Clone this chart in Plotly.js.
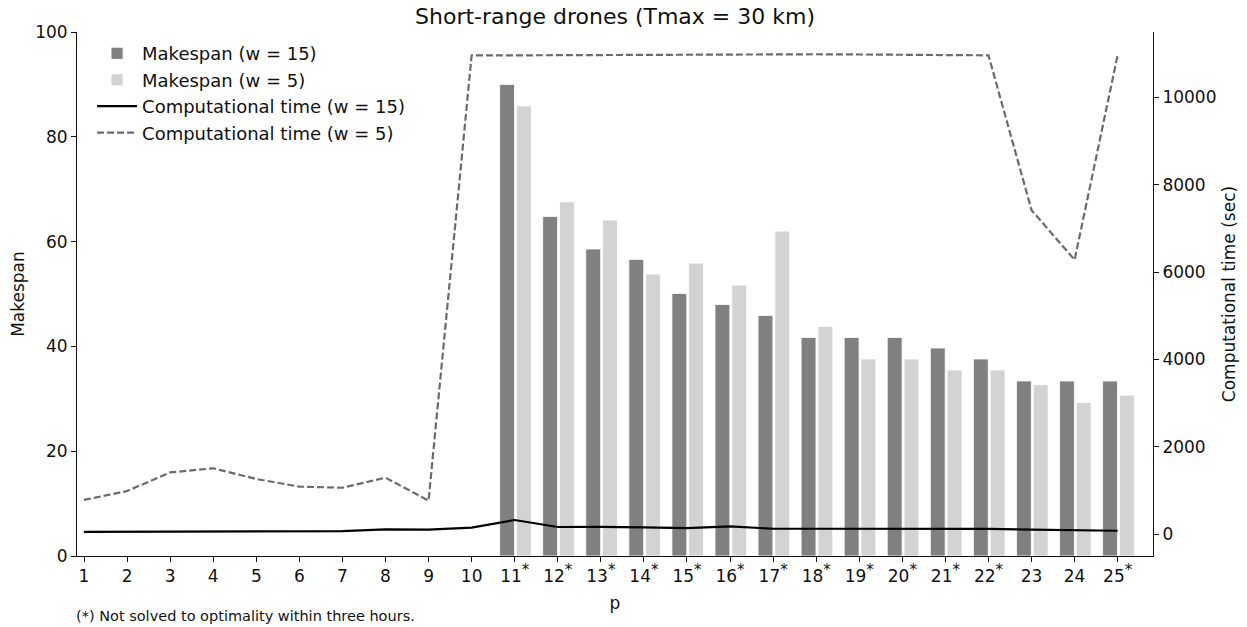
<!DOCTYPE html>
<html>
<head>
<meta charset="utf-8">
<script src="https://cdn.plot.ly/plotly-3.0.1.min.js"></script>
<style>
  html, body { margin: 0; padding: 0; background: #fff; }
  #chart { width: 1247px; height: 627px; }
</style>
</head>
<body>
<div id="chart"></div>
<script>
// ---- data ----
const p = [1,2,3,4,5,6,7,8,9,10,11,12,13,14,15,16,17,18,19,20,21,22,23,24,25];
const notOptimal = [false,false,false,false,false,false,false,false,false,false,
  true,true,true,true,true,true,true,true,true,true,true,true,false,false,true];
const makespanW15 = [null,null,null,null,null,null,null,null,null,null,
  90.0,64.8,58.6,56.6,50.1,48.0,45.9,41.7,41.7,41.7,39.7,37.6,33.4,33.4,33.4];
const makespanW5 = [null,null,null,null,null,null,null,null,null,null,
  85.9,67.6,64.1,53.8,55.9,51.7,62.0,43.8,37.6,37.6,35.5,35.5,32.7,29.3,30.7];
const compTimeW15 = [50,52,55,58,60,62,65,105,100,145,320,160,165,150,135,175,120,120,122,125,118,118,100,95,75];
const compTimeW5 = [780,985,1410,1505,1260,1085,1060,1290,765,10965,10965,10970,10975,10975,10980,10980,10985,10990,10985,10975,10970,10965,7420,6280,10975];

const tickLabels = p.map((v, i) => notOptimal[i] ? v + "<sup><span style='font-size:15px'>*</span></sup>" : String(v));

const FONT = "DejaVu Sans, sans-serif";
const TXT = "#111111";

const traces = [
  {
    type: "bar", name: "Makespan (w = 15)", x: p, y: makespanW15,
    offset: -0.35, width: 0.345,
    marker: { color: "#808080", line: { color: "#ffffff", width: 0.8 } },
    yaxis: "y", xaxis: "x"
  },
  {
    type: "bar", name: "Makespan (w = 5)", x: p, y: makespanW5,
    offset: 0.04, width: 0.345,
    marker: { color: "#d3d3d3", line: { color: "#ffffff", width: 0.8 } },
    yaxis: "y", xaxis: "x"
  },
  {
    type: "scatter", mode: "lines", name: "Computational time (w = 15)",
    x: p, y: compTimeW15, yaxis: "y2",
    line: { color: "#000000", width: 2.2 }
  },
  {
    type: "scatter", mode: "lines", name: "Computational time (w = 5)",
    x: p, y: compTimeW5, yaxis: "y2",
    line: { color: "#6b6b6b", width: 2.2, dash: "7px,3px" }
  }
];

const layout = {
  width: 1247, height: 627,
  margin: { l: 77, r: 94, t: 32, b: 71 },
  paper_bgcolor: "#ffffff", plot_bgcolor: "#ffffff",
  font: { family: FONT, size: 17, color: TXT },
  title: {
    text: "Short-range drones (Tmax = 30 km)",
    font: { family: FONT, size: 22, color: TXT },
    x: 0.4932, xanchor: "center", y: 0.974, yanchor: "middle"
  },
  barmode: "overlay",
  showlegend: true,
  legend: {
    x: 0.014, y: 0.994, xanchor: "left", yanchor: "top",
    bgcolor: "rgba(0,0,0,0)", font: { family: FONT, size: 18, color: TXT },
    tracegroupgap: 0, itemwidth: 40
  },
  xaxis: {
    range: [0.837, 25.82],
    tickmode: "array", tickvals: p, ticktext: tickLabels,
    ticks: "outside", ticklen: 5, tickcolor: TXT, tickwidth: 1,
    showline: true, linecolor: TXT, linewidth: 1,
    showgrid: false, zeroline: false,
    tickfont: { family: FONT, size: 17, color: TXT },
    title: { text: "p", font: { family: FONT, size: 17, color: TXT }, standoff: 11 }
  },
  yaxis: {
    range: [0, 100],
    tickvals: [0,20,40,60,80,100],
    ticks: "outside", ticklen: 5, tickcolor: TXT,
    showline: true, linecolor: TXT, linewidth: 1,
    showgrid: false, zeroline: false,
    tickfont: { family: FONT, size: 17, color: TXT },
    title: { text: "Makespan", font: { family: FONT, size: 17, color: TXT }, standoff: 6 }
  },
  yaxis2: {
    overlaying: "y", side: "right",
    range: [-504, 11500],
    tickvals: [0,2000,4000,6000,8000,10000],
    tickformat: "d",
    ticks: "outside", ticklen: 5, tickcolor: TXT,
    showline: true, linecolor: TXT, linewidth: 1,
    showgrid: false, zeroline: false,
    tickfont: { family: FONT, size: 17, color: TXT },
    title: { text: "Computational time (sec)", font: { family: FONT, size: 17, color: TXT }, standoff: 7 }
  },
  annotations: [
    {
      text: "(*) Not solved to optimality within three hours.",
      xref: "paper", yref: "paper", x: -0.003, y: -0.1145,
      xanchor: "left", yanchor: "middle", showarrow: false,
      font: { family: FONT, size: 14.5, color: TXT }
    }
  ]
};

Plotly.newPlot("chart", traces, layout, { displayModeBar: false, staticPlot: true });
</script>
</body>
</html>
